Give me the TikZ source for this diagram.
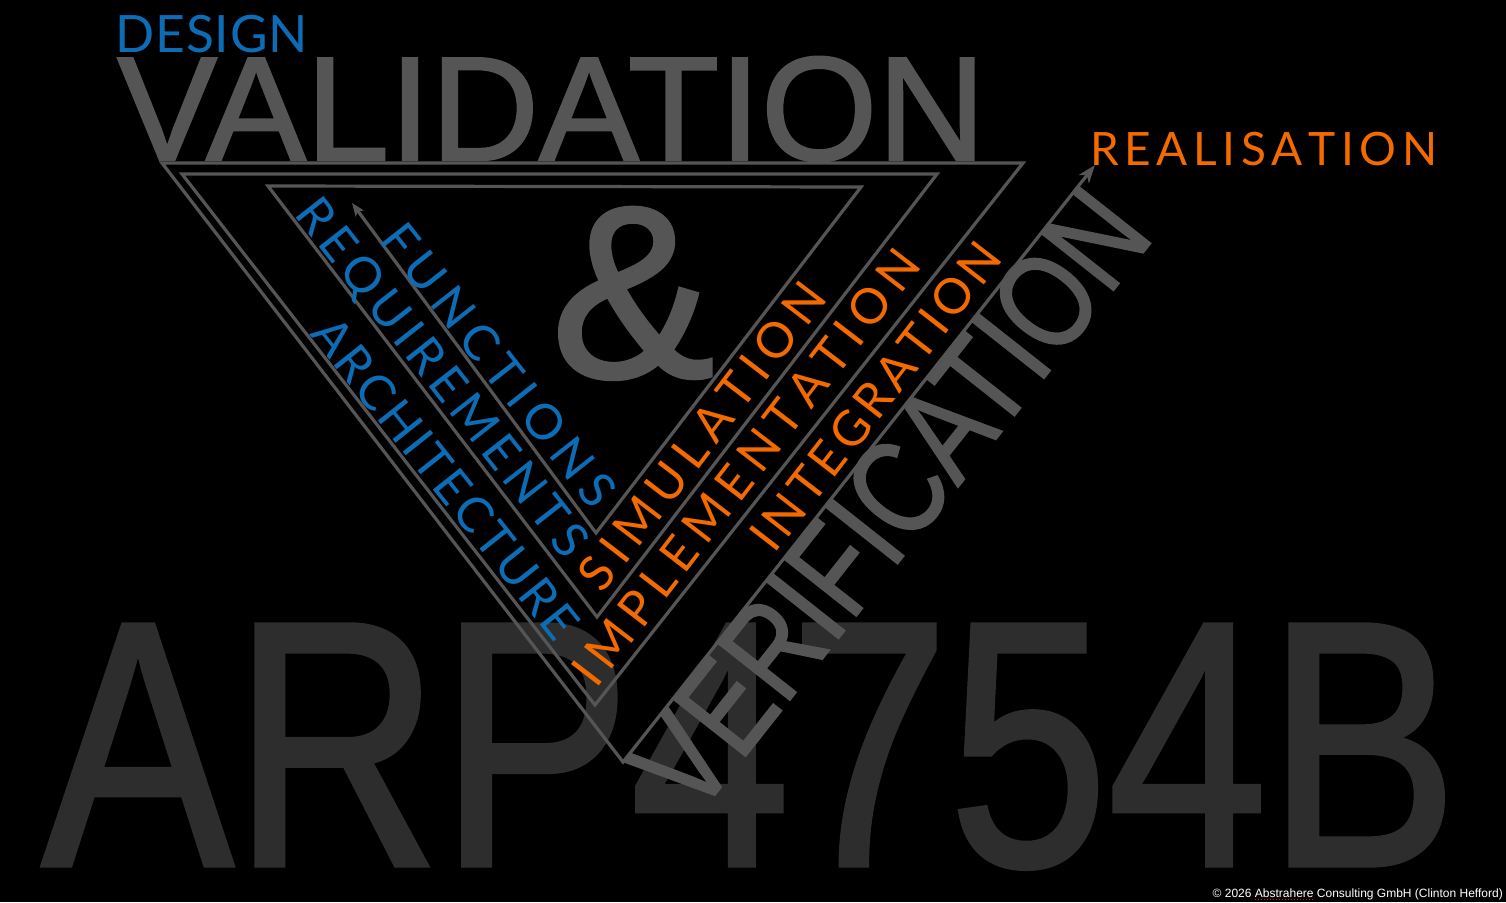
\documentclass[tikz,border=0pt]{standalone}
\usepackage{fontspec}
\usepackage{graphicx}
\setmainfont{Liberation Sans}
\newfontfamily\heavysans{Liberation Sans}[FakeBold=1.5]
\newfontfamily\hercfont{Lato}
\usetikzlibrary{arrows.meta}
\definecolor{vgray}{HTML}{555555}
\definecolor{arpgray}{HTML}{2D2D2D}
\definecolor{dblue}{HTML}{0C6DB6}
\definecolor{rorange}{HTML}{F26A00}
\makeatletter
\def\spr@aux#1#2{#1\ifx#2\relax\else\hfil\expandafter\spr@aux\expandafter#2\fi}
\newcommand\spreadtxt[2]{\makebox[#1][s]{\spr@aux#2\relax}}
\newcommand\captxt[2]{\rule{0pt}{\fontcharht\font`\H}\smash{\spreadtxt{#1}{#2}}}
\makeatother
\tikzset{
  vline/.style={draw=vgray, line width=3.2pt, line join=miter},
  bigtxt/.style={text=vgray, inner sep=0pt, font=\heavysans\fontsize{148}{150}\selectfont},
  arptxt/.style={text=arpgray, inner sep=0pt, font=\heavysans\fontsize{349}{350}\selectfont},
  bluetxt/.style={text=dblue, inner sep=0pt, font=\hercfont\fontsize{49}{50}\selectfont},
  orangetxt/.style={text=rorange, inner sep=0pt, font=\hercfont\fontsize{49}{50}\selectfont},
}
\begin{document}
\begin{tikzpicture}[x=1pt,y=-1pt]
\fill[black] (0,0) rectangle (1506,902);
\useasboundingbox (0,0) rectangle (1506,902);

% background big label
\node[arptxt, anchor=base west] (arp) at (42,865) {\scalebox{0.82}[1]{ARP4754B}};

% headings
\node[bigtxt, anchor=base west] (valid) at (117,160) {\scalebox{1.012}[1]{VALIDATION}};
\node[text=vgray, inner sep=0pt, anchor=base west, font=\heavysans\fontsize{245}{250}\selectfont] (amp) at (551,377) {\&};
\node[bluetxt, anchor=base west, font=\hercfont\fontsize{51.5}{52}\selectfont] (design) at (115,52) {\spreadtxt{193pt}{DESIGN}};
\node[orangetxt, anchor=base west, font=\hercfont\fontsize{46}{47}\selectfont] (real) at (1090,165) {\spreadtxt{347pt}{REALISATION}};

% spiral
\coordinate (B0) at (623,762);
\coordinate (R1) at (1095,165);
\coordinate (OTL) at (162,163);
\coordinate (OTR) at (1023,163);
\coordinate (V2) at (595,705);
\coordinate (STL) at (182,174);
\coordinate (STR) at (937,174);
\coordinate (V3) at (597,617);
\coordinate (ITL) at (268,186);
\coordinate (ITR) at (861,187);
\coordinate (V4) at (596,533);
\coordinate (AE) at (352,203);
\draw[vline, {Stealth[length=13pt,width=10pt,inset=3pt]}-{Stealth[length=18pt,width=13pt,inset=5pt]}]
  (AE) -- (V4) -- (ITR) -- (ITL) -- (V3) -- (STR) -- (STL) -- (V2) -- (OTR) -- (OTL) -- (B0) -- (R1);

% verification
\node[text=vgray, inner sep=0pt, anchor=north west, rotate=51.7, font=\heavysans\fontsize{134}{136}\selectfont] (verif) at (B0)
  {\rule{0pt}{\fontcharht\font`\V}\smash{\scalebox{0.80}[1]{VERIFICATION}}};

% design side
\node[bluetxt, rotate=-51.8] (func) at (499,365) {\captxt{345pt}{FUNCTIONS}};
\node[bluetxt, rotate=-51.9] (req) at (443,377) {\captxt{440pt}{REQUIREMENTS}};
\node[bluetxt, rotate=-51.5] (arch) at (446,478) {\captxt{395pt}{ARCHITECTURE}};

% realisation side
\node[orangetxt, rotate=52.6] (sim) at (702,436) {\captxt{372pt}{SIMULATION}};
\node[orangetxt, rotate=52.4] (impl) at (746,467) {\captxt{535pt}{IMPLEMENTATION}};
\node[orangetxt, rotate=52.2] (integ) at (876,396) {\captxt{375pt}{INTEGRATION}};

% footer
\node[text=white, inner sep=0pt, anchor=base east, font=\fontsize{12}{12}\selectfont] (copy) at (1503,897)
  {© 2026 Abstrahere Consulting GmbH (Clinton Hefford)};
\draw[red, dotted, line width=1pt] (1255,899.5) -- (1313,899.5);
\end{tikzpicture}
\end{document}
